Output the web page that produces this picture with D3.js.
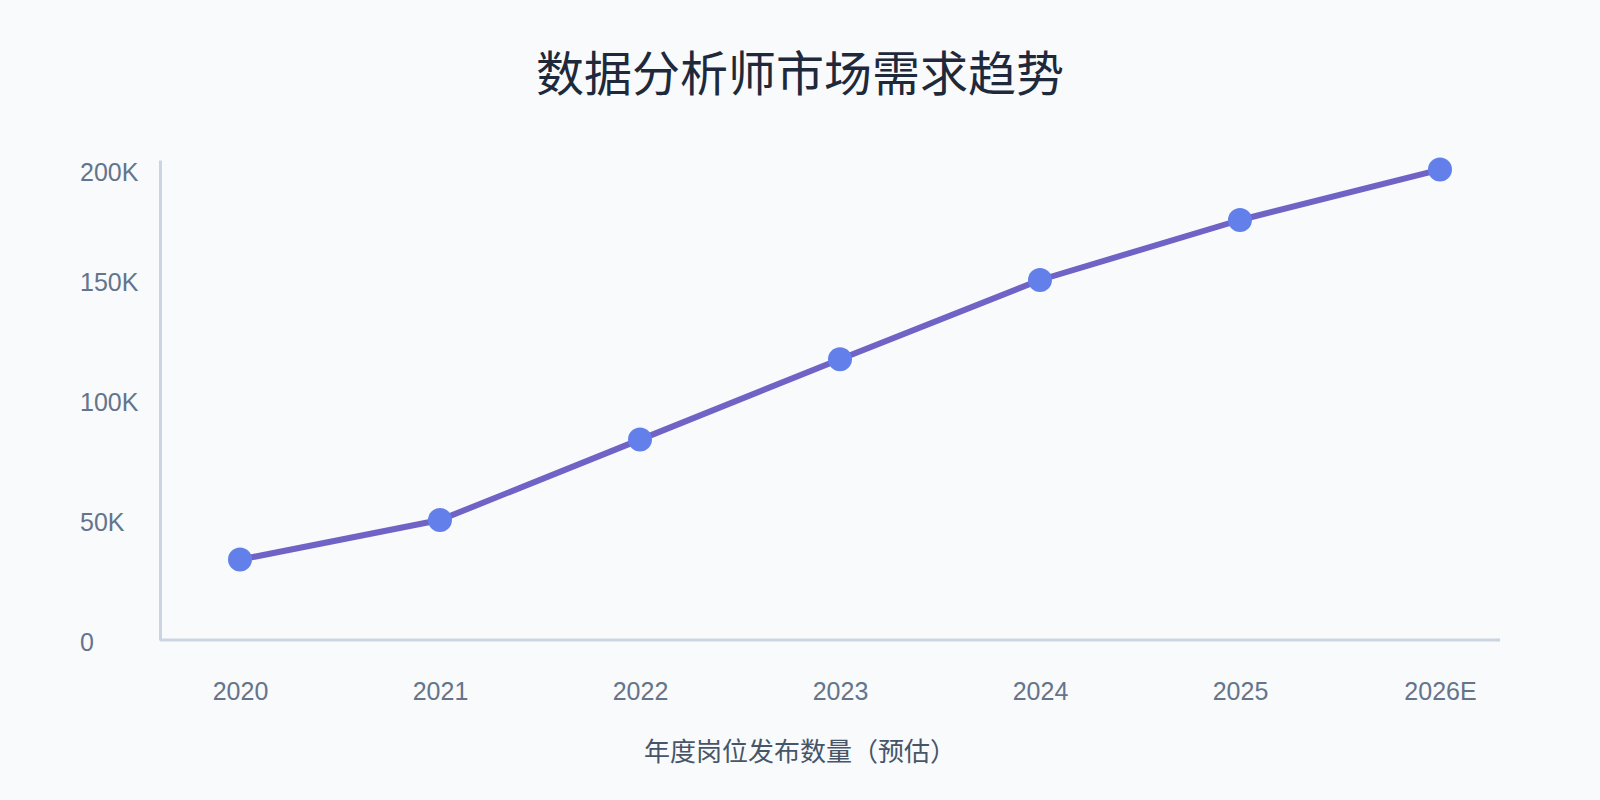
<!DOCTYPE html>
<html>
<head>
<meta charset="utf-8">
<script src="https://cdn.jsdelivr.net/npm/d3@7"></script>
<style>
  html, body { margin: 0; padding: 0; background: #f8fafc; }
  svg { display: block; }
</style>
</head>
<body>
<div id="chart"></div>
<script>
// chart data
const years = ["2020", "2021", "2022", "2023", "2024", "2025", "2026E"];
const postings = [33500, 50000, 83500, 117000, 150000, 175000, 196000];
const yTicks = [0, 50000, 100000, 150000, 200000];

const chartTitle = "数据分析师市场需求趋势";
const xTitle = "年度岗位发布数量（预估）";

const W = 1600, H = 800;
const margin = { top: 160, right: 100, bottom: 160, left: 160 };
const width = W - margin.left - margin.right;
const height = H - margin.top - margin.bottom;

const latin = "'Liberation Sans', 'Noto Sans CJK SC', sans-serif";
const cjk = "'Noto Sans CJK SC', sans-serif";

const svg = d3.select("#chart")
  .append("svg")
  .attr("width", W)
  .attr("height", H);

svg.append("rect")
  .attr("width", W)
  .attr("height", H)
  .attr("fill", "#f8fafc");

svg.append("text")
  .attr("x", W / 2)
  .attr("y", 91)
  .attr("text-anchor", "middle")
  .attr("font-family", cjk)
  .attr("font-size", 48)
  .attr("font-weight", 400)
  .attr("fill", "#1e293b")
  .text(chartTitle);

const g = svg.append("g")
  .attr("transform", "translate(" + margin.left + "," + margin.top + ")");

// x scale - points, not centred in the axis
const x = d3.scalePoint()
  .domain(years)
  .range([80, width - 60]);

const y = d3.scaleLinear()
  .domain([0, 200000])
  .range([height, 0]);

// y axis
const yAxis = g.append("g")
  .call(d3.axisLeft(y)
    .tickValues(yTicks)
    .tickSize(0)
    .tickFormat(d => d === 0 ? "0" : (d / 1000) + "K"));

yAxis.select(".domain")
  .attr("stroke", "#cbd5e1")
  .attr("stroke-width", 3);

yAxis.selectAll("text")
  .attr("x", -80)
  .attr("dy", (d, i) => i === yTicks.length - 1 ? "0.83em" : "0.43em")
  .attr("text-anchor", "start")
  .attr("font-family", latin)
  .attr("font-size", 25)
  .attr("fill", "#64748b");

// x axis
const xAxis = g.append("g")
  .attr("transform", "translate(0," + height + ")")
  .call(d3.axisBottom(x).tickSize(0));

xAxis.select(".domain")
  .attr("d", "M0,0H" + width)
  .attr("stroke", "#cbd5e1")
  .attr("stroke-width", 3);

xAxis.selectAll("text")
  .attr("y", 60)
  .attr("dy", 0)
  .attr("font-family", latin)
  .attr("font-size", 25)
  .attr("fill", "#64748b");

svg.append("text")
  .attr("x", W / 2)
  .attr("y", 761)
  .attr("text-anchor", "middle")
  .attr("font-family", cjk)
  .attr("font-size", 26)
  .attr("fill", "#475569")
  .text(xTitle);

// line + points
const line = d3.line()
  .x((d, i) => x(years[i]))
  .y(d => y(d));

g.append("path")
  .datum(postings)
  .attr("d", line)
  .attr("fill", "none")
  .attr("stroke", "#6f63c6")
  .attr("stroke-width", 6)
  .attr("stroke-linejoin", "round");

g.selectAll("circle.pt")
  .data(postings)
  .enter()
  .append("circle")
  .attr("class", "pt")
  .attr("cx", (d, i) => x(years[i]))
  .attr("cy", d => y(d))
  .attr("r", 12)
  .attr("fill", "#6380ea");
</script>
</body>
</html>
